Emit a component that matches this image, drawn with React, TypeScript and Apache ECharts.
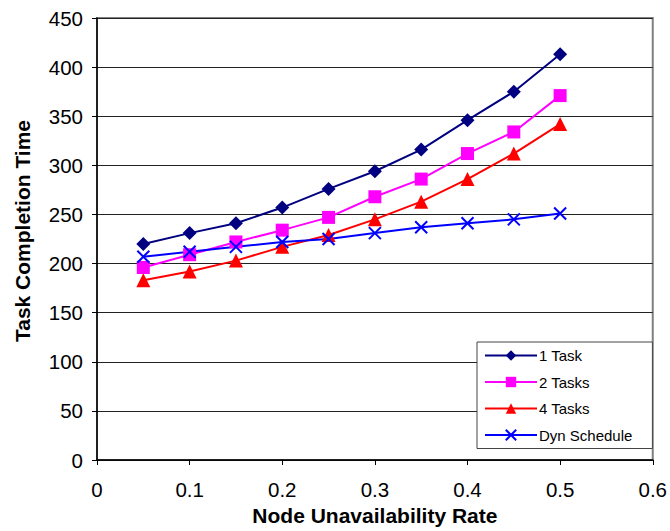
import React, { useEffect, useRef } from "react";
import * as echarts from "echarts";

const xValues = [0.05, 0.1, 0.15, 0.2, 0.25, 0.3, 0.35, 0.4, 0.45, 0.5];
const oneTask = [220, 231, 241, 257, 276, 294, 316, 346, 375, 413];
const twoTasks = [196, 209, 222, 234, 247, 268, 286, 312, 334, 371];
const fourTasks = [183, 192, 203, 217, 229, 245, 263, 286, 312, 342];
const dynSchedule = [207, 212, 217, 222, 225, 231, 237, 241, 245, 251];
const seriesNames = ["1 Task", "2 Tasks", "4 Tasks", "Dyn Schedule"];
const xTitle = "Node Unavailability Rate";
const yTitle = "Task Completion Time";

const xPath = "path://M0,0 L10,10 M10,0 L0,10";

export default function App() {
  const ref = useRef<HTMLDivElement>(null);
  useEffect(() => {
    const chart = echarts.init(ref.current!, null, { renderer: "svg" });
    const font = "Liberation Sans, Arial, sans-serif";
    const pair = (arr: number[]) => xValues.map((x, i) => [x, arr[i]]);
    chart.setOption({
      animation: false,
      backgroundColor: "#fff",
      textStyle: { fontFamily: font },
      grid: {
        left: 97,
        right: 15,
        top: 18,
        bottom: 69,
        show: true,
        borderColor: "#808080",
        borderWidth: 2,
        backgroundColor: "transparent",
      },
      graphic: [
        {
          type: "text",
          x: 22,
          y: 231,
          rotation: Math.PI / 2,
          style: {
            text: yTitle,
            fontSize: 21,
            fontWeight: "bold",
            fontFamily: font,
            fill: "#000",
            align: "center",
            verticalAlign: "middle",
          },
        },
      ],
      legend: {
        orient: "vertical",
        left: 477,
        top: 342,
        width: 162,
        itemWidth: 52,
        itemHeight: 13,
        itemGap: 11.5,
        padding: [6, 20, 6, 7],
        backgroundColor: "#fff",
        borderColor: "#444",
        borderWidth: 1,
        borderRadius: 0,
        textStyle: { fontSize: 15, color: "#000", fontFamily: font, padding: [0, 0, 0, -3] },
        data: seriesNames,
      },
      xAxis: {
        type: "value",
        min: 0,
        max: 0.6,
        interval: 0.1,
        name: xTitle,
        nameLocation: "middle",
        nameGap: 45,
        nameTextStyle: { fontSize: 21, fontWeight: "bold", color: "#000", fontFamily: font },
        axisLine: { show: true, lineStyle: { color: "#000", width: 1.5 } },
        axisTick: { show: true, inside: false, length: 5, lineStyle: { color: "#000" } },
        axisLabel: { fontSize: 20.5, color: "#000", margin: 19, fontFamily: font },
        splitLine: { show: false },
      },
      yAxis: {
        type: "value",
        min: 0,
        max: 450,
        interval: 50,
        axisLine: { show: true, lineStyle: { color: "#000", width: 1.5 } },
        axisTick: { show: true, inside: false, length: 5, lineStyle: { color: "#000" } },
        axisLabel: { fontSize: 20.5, color: "#000", margin: 14, fontFamily: font },
        splitLine: { show: true, lineStyle: { color: "#222", width: 1.2 } },
      },
      series: [
        {
          name: seriesNames[0],
          type: "line",
          data: pair(oneTask),
          symbol: "diamond",
          symbolSize: 14,
          color: "#000080",
          lineStyle: { width: 2, color: "#000080" },
          itemStyle: { color: "#000080" },
        },
        {
          name: seriesNames[1],
          type: "line",
          data: pair(twoTasks),
          symbol: "rect",
          symbolSize: 13,
          color: "#FF00FF",
          lineStyle: { width: 2, color: "#FF00FF" },
          itemStyle: { color: "#FF00FF" },
        },
        {
          name: seriesNames[2],
          type: "line",
          data: pair(fourTasks),
          symbol: "triangle",
          symbolSize: 14,
          color: "#FF0000",
          lineStyle: { width: 2, color: "#FF0000" },
          itemStyle: { color: "#FF0000" },
        },
        {
          name: seriesNames[3],
          type: "line",
          data: pair(dynSchedule),
          symbol: xPath,
          symbolSize: 12,
          color: "#0000FF",
          lineStyle: { width: 2, color: "#0000FF" },
          itemStyle: { color: "#0000FF", borderColor: "#0000FF", borderWidth: 2 },
        },
      ],
    });
    return () => chart.dispose();
  }, []);
  return <div ref={ref} style={{ width: 670, height: 531, position: "absolute", left: 0, top: 0 }} />;
}
